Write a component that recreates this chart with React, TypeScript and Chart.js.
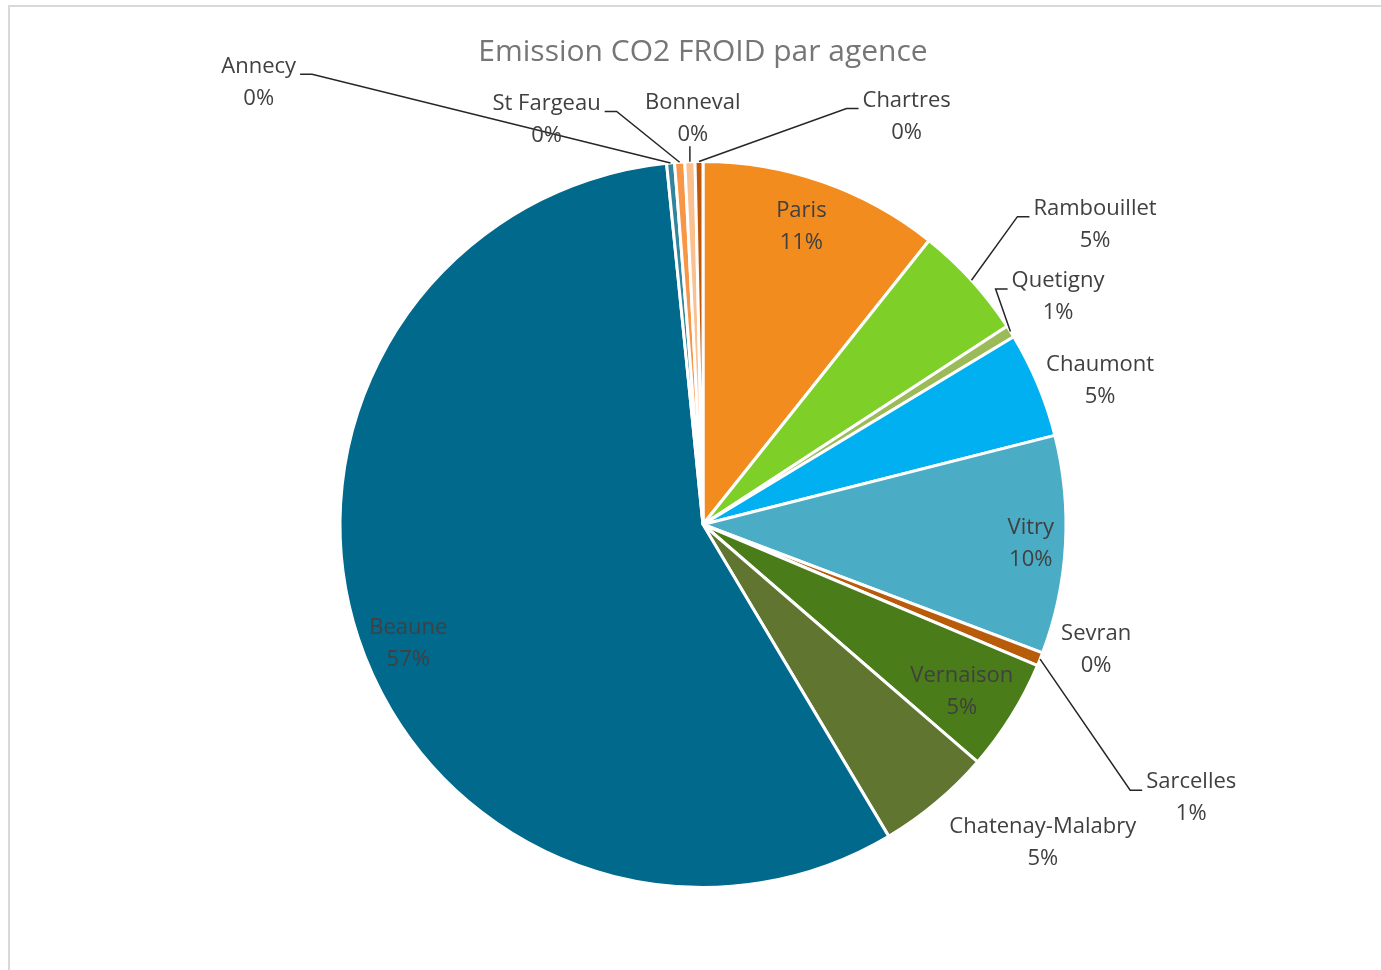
import React, { useEffect, useRef } from "react";
import { Chart, registerables } from "chart.js";

Chart.register(...registerables);

const TITLE = "Emission CO2 FROID par agence";

const CATEGORIES = [
  "Paris",
  "Rambouillet",
  "Quetigny",
  "Chaumont",
  "Vitry",
  "Sevran",
  "Sarcelles",
  "Vernaison",
  "Chatenay-Malabry",
  "Beaune",
  "Annecy",
  "St Fargeau",
  "Bonneval",
  "Chartres",
];

const VALUES = [10.7, 5.1, 0.55, 4.7, 9.7, 0, 0.6, 5.0, 5.1, 56.95, 0.35, 0.45, 0.45, 0.35];

const COLORS = [
  "#F28C1E",
  "#7ED028",
  "#9BBB59",
  "#00B0F0",
  "#4BACC6",
  "#8064A2",
  "#B85C0A",
  "#4A7C19",
  "#5F7530",
  "#00698C",
  "#31859C",
  "#F79646",
  "#FAC090",
  "#C0580C",
];

// Label block centres, relative to pie centre, in units of the pie radius
const LABEL_POS: [number, number][] = [
  [0.271, -0.82],
  [1.08, -0.826],
  [0.978, -0.627],
  [1.094, -0.395],
  [0.903, 0.052],
  [1.083, 0.345],
  [1.345, 0.754],
  [0.713, 0.461],
  [0.936, 0.876],
  [-0.812, 0.329],
  [-1.224, -1.218],
  [-0.431, -1.116],
  [-0.028, -1.119],
  [0.561, -1.124],
];

const LEADER = [false, true, true, false, false, false, true, false, false, false, true, true, true, true];

const FONT = "'Open Sans', sans-serif";
const LABEL_SIZE = 22;
const LINE_GAP = 32;

const labelPlugin = {
  id: "pieLabels",
  afterDatasetsDraw(chart: any) {
    const ctx = chart.ctx;
    const meta = chart.getDatasetMeta(0);
    const total = VALUES.reduce((a, b) => a + b, 0);
    ctx.save();
    ctx.font = `${LABEL_SIZE}px ${FONT}`;
    ctx.textAlign = "center";
    ctx.textBaseline = "middle";
    meta.data.forEach((arc: any, i: number) => {
      const { x, y, startAngle, endAngle, outerRadius } = arc.getProps(
        ["x", "y", "startAngle", "endAngle", "outerRadius"],
        true
      );
      const mid = (startAngle + endAngle) / 2;
      const lx = x + LABEL_POS[i][0] * outerRadius;
      const ly = y + LABEL_POS[i][1] * outerRadius;
      const pct = Math.round((VALUES[i] / total) * 100) + "%";
      ctx.fillStyle = "#404040";
      ctx.fillText(CATEGORIES[i], lx, ly - LINE_GAP / 2);
      ctx.fillText(pct, lx, ly + LINE_GAP / 2);
      if (LEADER[i]) {
        const tx = x + Math.cos(mid) * outerRadius;
        const ty = y + Math.sin(mid) * outerRadius;
        ctx.strokeStyle = "#262626";
        ctx.lineWidth = 1.5;
        ctx.beginPath();
        if (Math.abs(tx - lx) < 20) {
          ctx.moveTo(tx, ly + LINE_GAP / 2 + 12);
          ctx.lineTo(tx, ty);
        } else {
          const w = ctx.measureText(CATEGORIES[i]).width;
          const hy = ly - 8;
          const dir = tx < lx ? -1 : 1;
          const ex = lx + dir * (w / 2 + 4);
          ctx.moveTo(ex, hy);
          ctx.lineTo(ex + dir * 12, hy);
          ctx.lineTo(tx, ty);
        }
        ctx.stroke();
      }
    });
    ctx.restore();
  },
};

export default function App() {
  const ref = useRef<HTMLCanvasElement | null>(null);
  useEffect(() => {
    if (!ref.current) return;
    const chart = new Chart(ref.current, {
      type: "pie",
      data: {
        labels: CATEGORIES,
        datasets: [
          {
            data: VALUES,
            backgroundColor: COLORS,
            borderColor: "#ffffff",
            borderWidth: 3,
            hoverOffset: 0,
          },
        ],
      },
      options: {
        responsive: false,
        animation: false,
        radius: 363,
        layout: { padding: { left: 25, right: 0, top: 0, bottom: 0 } },
        plugins: {
          legend: { display: false },
          tooltip: { enabled: false },
          title: {
            display: true,
            text: TITLE,
            color: "#767676",
            font: { family: FONT, size: 30, weight: "normal" },
            padding: { top: 34, bottom: 9 },
          },
        },
      } as any,
      plugins: [labelPlugin],
    });
    return () => chart.destroy();
  }, []);
  return (
    <div
      style={{
        position: "fixed",
        left: 0,
        top: 0,
        width: 1381,
        height: 970,
        overflow: "hidden",
        background: "#ffffff",
      }}
    >
      <canvas ref={ref} width={1381} height={970} style={{ width: 1381, height: 970, display: "block" }} />
      <div
        style={{
          position: "absolute",
          left: 8,
          top: 5,
          width: 1400,
          height: 1000,
          border: "2px solid #d9d9d9",
          pointerEvents: "none",
        }}
      />
    </div>
  );
}
